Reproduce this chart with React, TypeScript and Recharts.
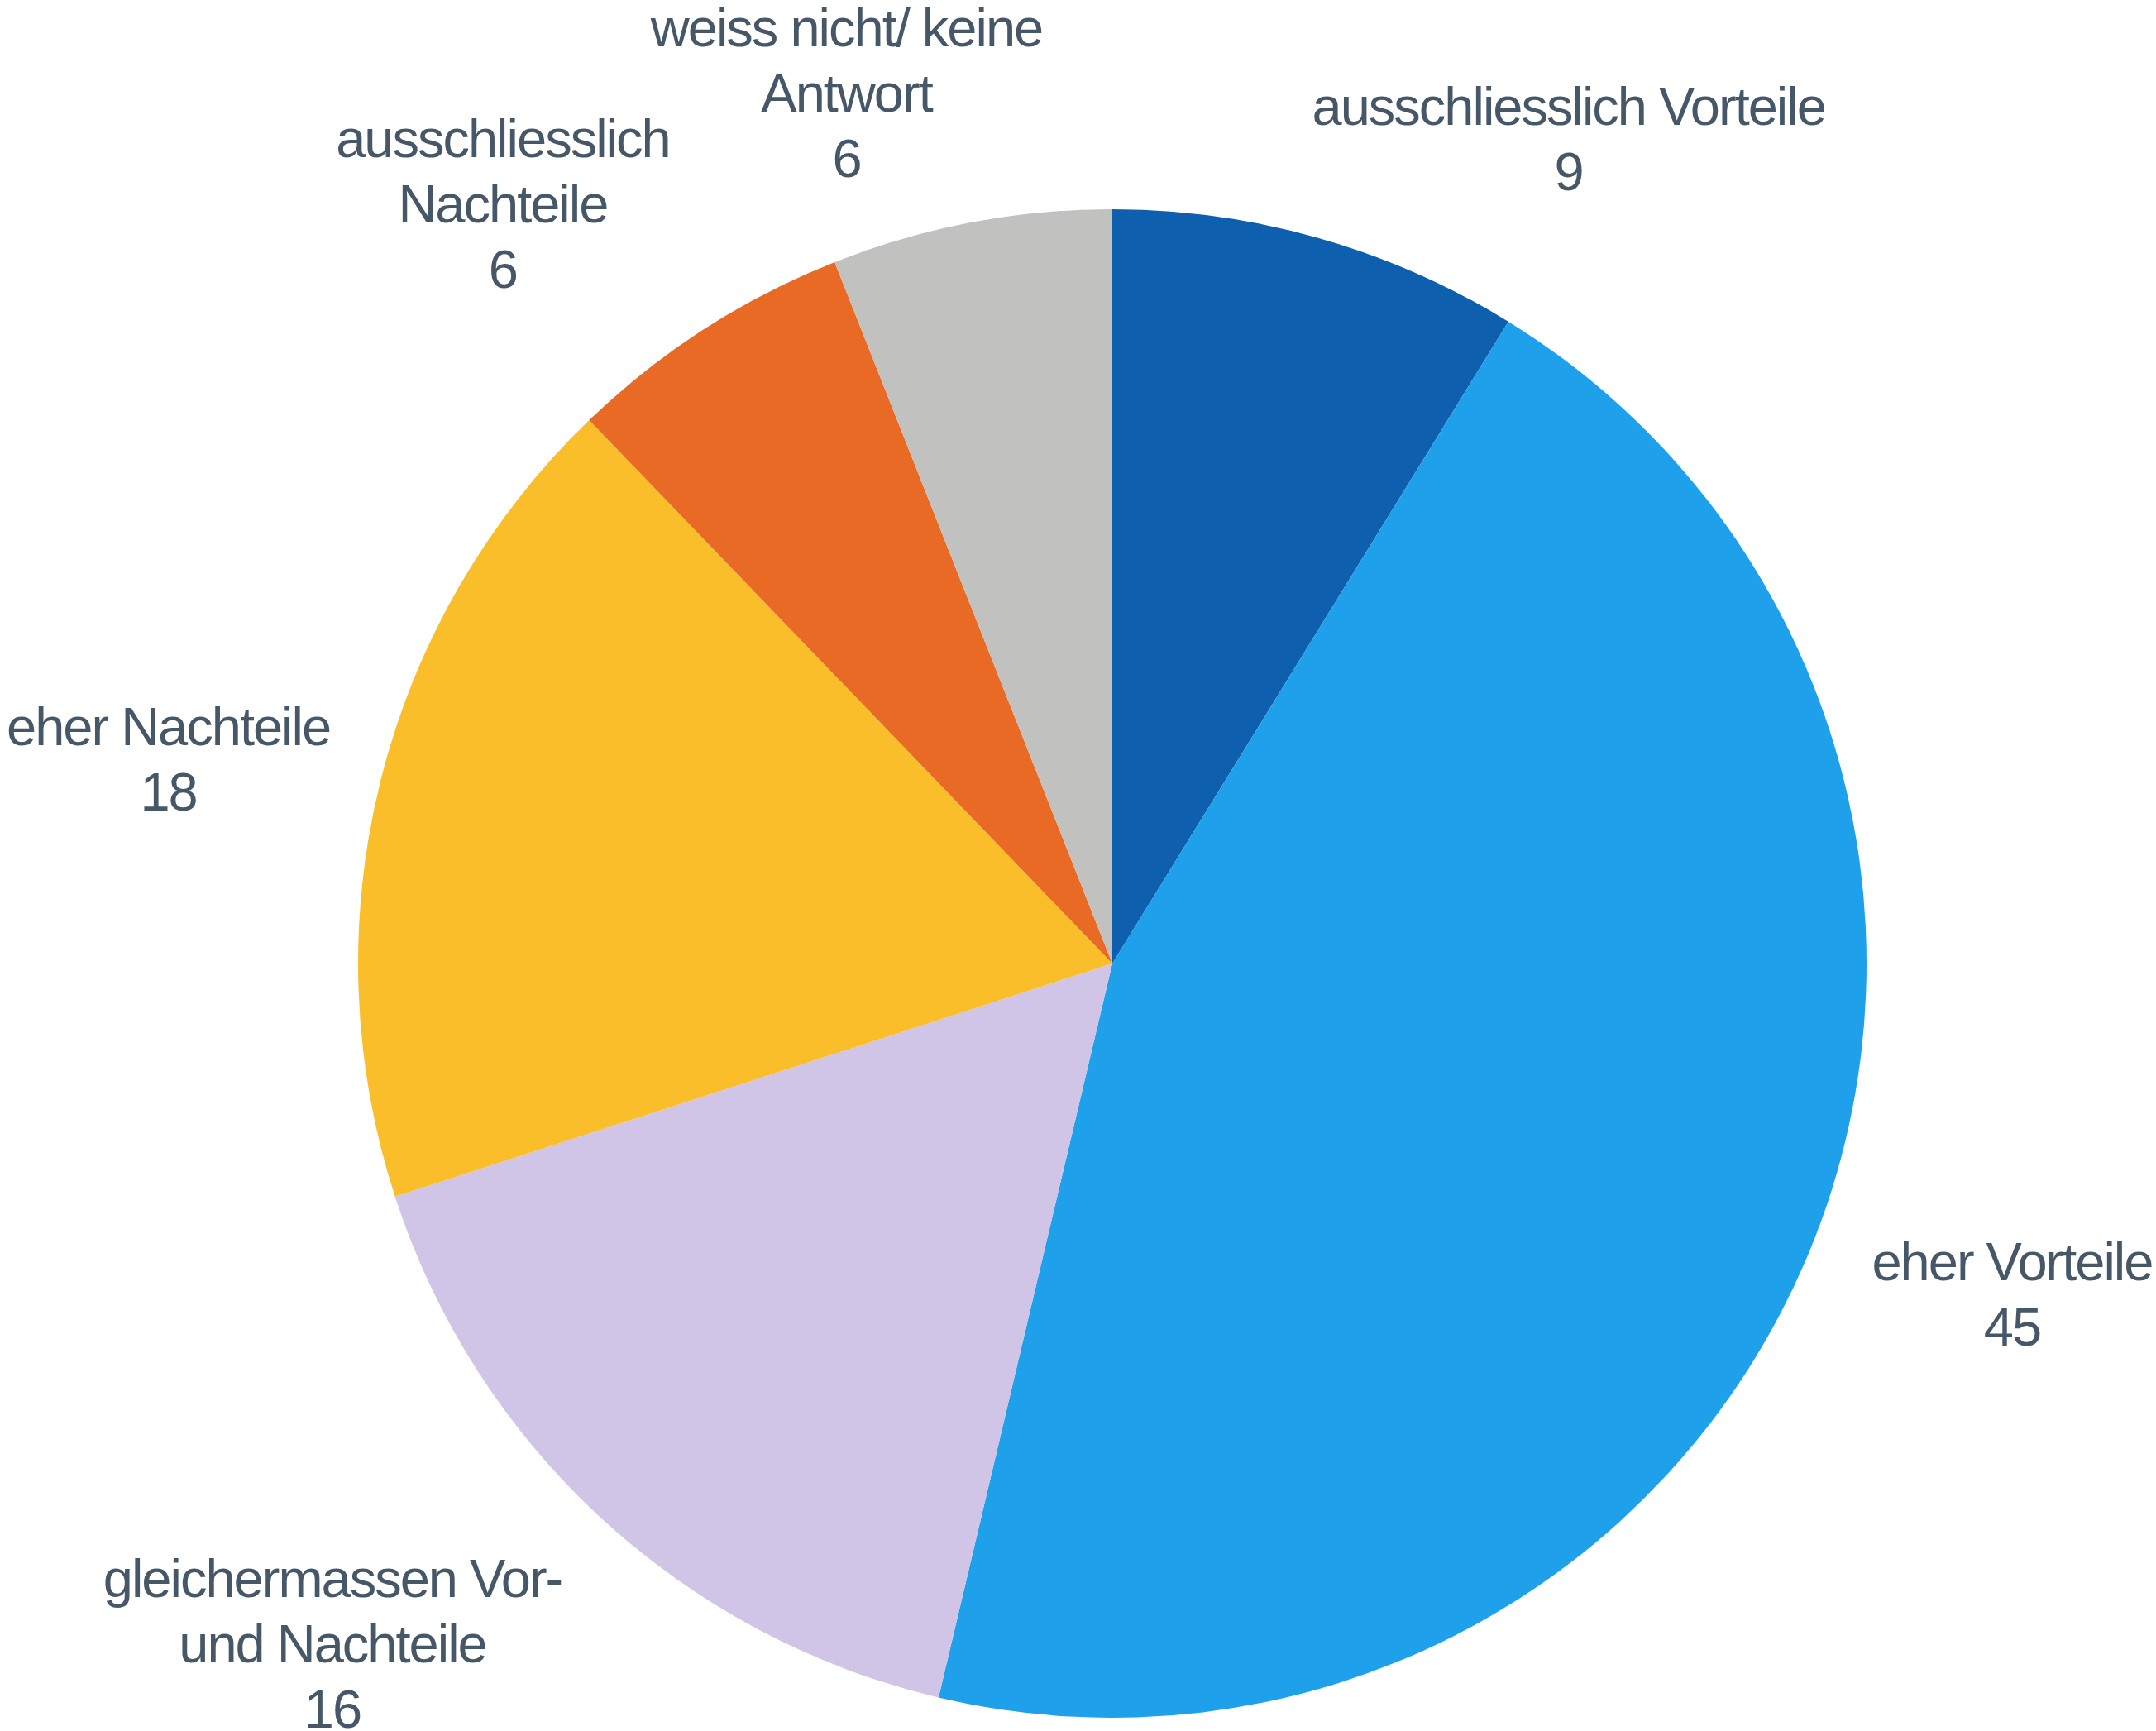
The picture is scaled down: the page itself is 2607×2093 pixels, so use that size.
import React from "react";
import { PieChart, Pie, Cell } from "recharts";

const categories = [
  "ausschliesslich Vorteile",
  "eher Vorteile",
  "gleichermassen Vor-\nund Nachteile",
  "eher Nachteile",
  "ausschliesslich\nNachteile",
  "weiss nicht/ keine\nAntwort",
];
// slice shares as measured from the slice angles (labels show the rounded values)
const values = [8.8, 44.9, 16.3, 17.8, 6.2, 6.0];
const colors = ["#0E5FAD", "#1EA0EA", "#D0C4E7", "#F9BE2A", "#E86A24", "#C1C1C0"];

// label placement nudges (layout only), relative to a polar anchor along each slice's mid angle
const labelNudges: [number, number][] = [
  [248, 73],
  [60, -27],
  [-189, 4],
  [-62, 22],
  [-135, 16],
  [-113, 40],
];

const data = categories.map((name, i) => ({ name, value: values[i] }));

const RAD = Math.PI / 180;
const FONT_SIZE = 65;
const LINE_H = 79;
const TEXT_COLOR = "#465868";

const renderLabel = (props: any) => {
  const { cx, cy, midAngle, outerRadius, index, value, name } = props;
  const r = outerRadius * 1.22;
  const ax = cx + r * Math.cos(-midAngle * RAD);
  const ay = cy + r * Math.sin(-midAngle * RAD);
  const [nx, ny] = labelNudges[index] || [0, 0];
  const x = ax + nx;
  const y = ay + ny;
  const lines = [...String(name).split("\n"), String(Math.round(Number(value)))];
  const firstBaseline = y - ((lines.length - 1) * LINE_H) / 2 + 0.716 * FONT_SIZE / 2;
  return (
    <text
      x={x}
      y={firstBaseline}
      textAnchor="middle"
      fill={TEXT_COLOR}
      fontSize={FONT_SIZE}
      fontFamily="'Liberation Sans', Arial, sans-serif"
      letterSpacing={-2}
    >
      {lines.map((l, i) => (
        <tspan key={i} x={x} y={firstBaseline + i * LINE_H}>
          {l}
        </tspan>
      ))}
    </text>
  );
};

export default function App() {
  return (
    <div style={{ position: "absolute", left: 0, top: 0, width: 2607, height: 2093, background: "#fff" }}>
      <PieChart width={2607} height={2093} margin={{ top: 0, right: 0, bottom: 0, left: 0 }}>
        <Pie
          data={data}
          dataKey="value"
          nameKey="name"
          cx={1345}
          cy={1165}
          outerRadius={912}
          startAngle={90}
          endAngle={-270}
          stroke="none"
          label={renderLabel}
          labelLine={false}
          isAnimationActive={false}
        >
          {data.map((d, i) => (
            <Cell key={d.name} fill={colors[i]} stroke="none" />
          ))}
        </Pie>
      </PieChart>
    </div>
  );
}
